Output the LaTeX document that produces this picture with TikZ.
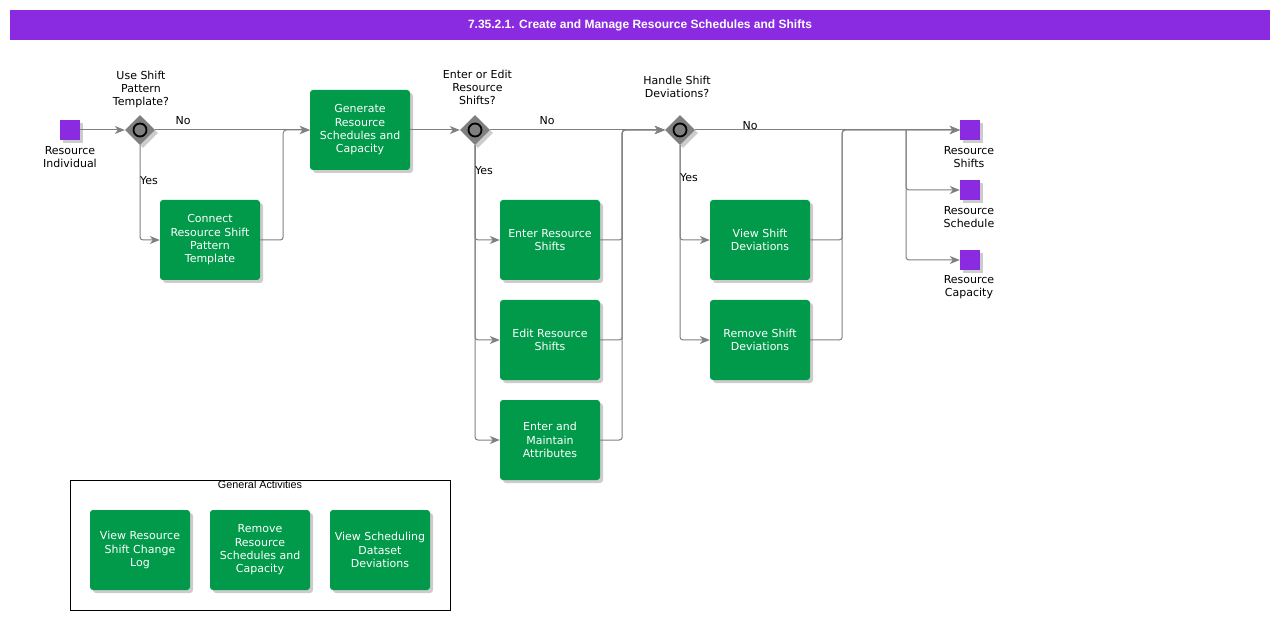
\documentclass[tikz,border=0pt]{standalone}
\usepackage{fontspec}
\newfontfamily\bodyfont{DejaVu Sans}
\newfontfamily\titlefont{Liberation Sans}
\usetikzlibrary{arrows.meta,shapes.geometric,shadows}
\definecolor{violetbar}{HTML}{8A2BE2}
\definecolor{taskgreen}{HTML}{009A4A}
\definecolor{linegray}{HTML}{808080}
\definecolor{gwgray}{HTML}{7F7F7F}
\begin{document}
\begin{tikzpicture}[x=1pt,y=-1pt,
  shadowed/.style={drop shadow={shadow xshift=3pt,shadow yshift=-3pt,fill=black!20,opacity=1}},
  task/.style={rectangle,fill=taskgreen,rounded corners=3pt,minimum width=100pt,minimum height=80pt,
    inner sep=0pt,text=white,align=center,font=\bodyfont\fontsize{11}{13.3}\selectfont,shadowed},
  gateway/.style={diamond,fill=gwgray,minimum width=30pt,minimum height=30pt,inner sep=0pt,shadowed},
  gwmark/.style={circle,draw=black,line width=1.8pt,fill=gwgray,minimum size=13pt,inner sep=0pt},
  term/.style={rectangle,fill=violetbar,minimum width=20pt,minimum height=20pt,inner sep=0pt,shadowed},
  lbl/.style={text=black,align=center,inner sep=0pt,font=\bodyfont\fontsize{11}{13}\selectfont},
  flow/.style={draw=linegray,line width=1pt,rounded corners=3pt,
    -{Stealth[length=10pt,width=8pt,inset=3pt,fill=linegray]}},
]
\useasboundingbox (0,0) rectangle (1280,620);
\fill[white] (0,0) rectangle (1280,620);

% title
\node[fill=violetbar,minimum width=1260pt,minimum height=30pt,inner sep=0pt,text=white,
  font=\titlefont\bfseries\fontsize{12}{14}\selectfont] (title) at (640,25.5)
  {7.35.2.1. Create and Manage Resource Schedules and Shifts};

% start
\node[term] (s1) at (70,130) {};
\node[lbl] (s1l) at (70,157.5) {Resource\\Individual};

% gateway 1
\node[gateway] (d1) at (140,130) {};
\node[gwmark] (d1c) at (140,130) {};
\node[lbl] (d1l) at (141,89) {Use Shift\\Pattern\\Template?};

\node[task] (conn) at (210,240) {Connect\\Resource Shift\\Pattern\\Template};
\node[task] (gen) at (360,130) {Generate\\Resource\\Schedules and\\Capacity};

% gateway 2
\node[gateway] (d2) at (475,130) {};
\node[gwmark] (d2c) at (475,130) {};
\node[lbl] (d2l) at (477.5,87) {Enter or Edit\\Resource\\Shifts?};

\node[task] (t1) at (550,240) {Enter Resource\\Shifts};
\node[task] (t2) at (550,340) {Edit Resource\\Shifts};
\node[task] (t3) at (550,440) {Enter and\\Maintain\\Attributes};

% gateway 3
\node[gateway] (d3) at (680,130) {};
\node[gwmark] (d3c) at (680,130) {};
\node[lbl] (d3l) at (677,86.5) {Handle Shift\\Deviations?};

\node[task] (v1) at (760,240) {View Shift\\Deviations};
\node[task] (v2) at (760,340) {Remove Shift\\Deviations};

% outputs
\node[term] (o1) at (970,130) {};
\node[lbl] (o1l) at (969,157.5) {Resource\\Shifts};
\node[term] (o2) at (970,190) {};
\node[lbl] (o2l) at (969,217.5) {Resource\\Schedule};
\node[term] (o3) at (970,260) {};
\node[lbl] (o3l) at (969,287.5) {Resource\\Capacity};
\coordinate (br) at (906,130);

% connectors
\draw[flow] (s1) -- (d1);
\draw[flow] (d1) -- (gen);
\node[lbl] (no1) at (183,121) {No};
\draw[flow] (d1.south) |- (conn.west);
\node[lbl,anchor=west] (yes1) at (140,181) {Yes};
\draw[flow] (conn.east) -- ++(23,0) |- (gen.west);

\draw[flow] (gen) -- (d2);
\draw[flow] (d2) -- (d3);
\node[lbl] (no2) at (547,121) {No};
\draw[flow] (d2.south) |- (t1.west);
\draw[flow] (d2.south) |- (t2.west);
\draw[flow] (d2.south) |- (t3.west);
\node[lbl,anchor=west] (yes2) at (475,171) {Yes};
\draw[flow] (t1.east) -- ++(22,0) |- (d3.west);
\draw[flow] (t2.east) -- ++(22,0) |- (d3.west);
\draw[flow] (t3.east) -- ++(22,0) |- (d3.west);

\draw[flow] (d3) -- (o1);
\node[lbl] (no3) at (750,126) {No};
\draw[flow] (d3.south) |- (v1.west);
\draw[flow] (d3.south) |- (v2.west);
\node[lbl,anchor=west] (yes3) at (680,178) {Yes};
\draw[flow] (v1.east) -- ++(32,0) |- (o1.west);
\draw[flow] (v2.east) -- ++(32,0) |- (o1.west);
\draw[flow] (br) |- (o2.west);
\draw[flow] (br) |- (o3.west);

% general activities
\node[draw=black,line width=0.8pt,minimum width=380pt,minimum height=130pt,inner sep=0pt] (ga) at (260,545) {};
\node[anchor=base,inner sep=0pt,font=\titlefont\fontsize{10.8}{12}\selectfont] (gal) at (260,488) {General Activities};
\node[task] (g1) at (140,550) {View Resource\\Shift Change\\Log};
\node[task] (g2) at (260,550) {Remove\\Resource\\Schedules and\\Capacity};
\node[task] (g3) at (380,550) {View Scheduling\\Dataset\\Deviations};
\end{tikzpicture}
\end{document}
